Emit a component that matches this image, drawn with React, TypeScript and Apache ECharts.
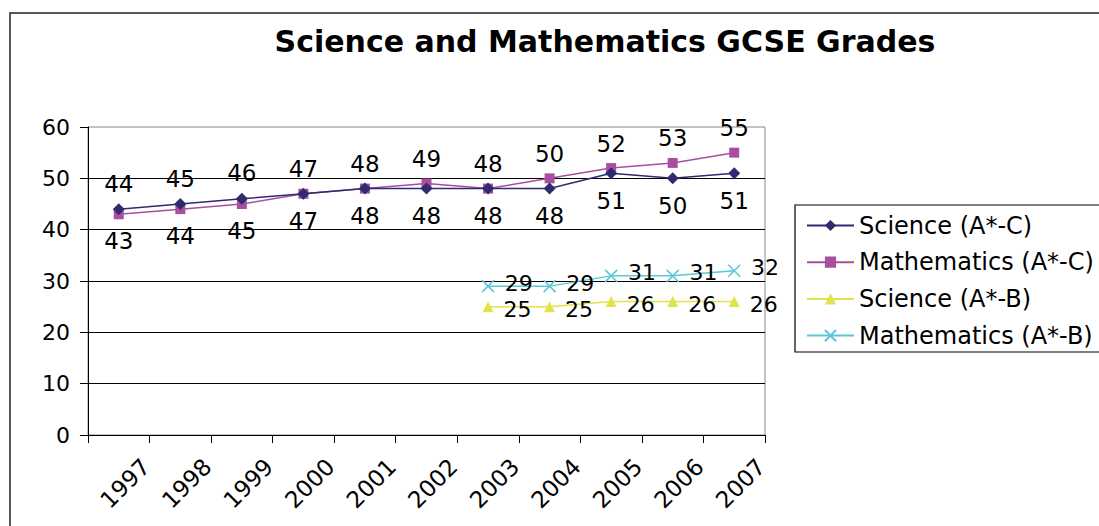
import React, { useEffect, useRef } from "react";
import * as echarts from "echarts";

const years = ["1997", "1998", "1999", "2000", "2001", "2002", "2003", "2004", "2005", "2006", "2007"];
const scienceAC = [44, 45, 46, 47, 48, 48, 48, 48, 51, 50, 51];
const mathsAC = [43, 44, 45, 47, 48, 49, 48, 50, 52, 53, 55];
const scienceAB = [null, null, null, null, null, null, 25, 25, 26, 26, 26];
const mathsAB = [null, null, null, null, null, null, 29, 29, 31, 31, 32];
const seriesNames = ["Science (A*-C)", "Mathematics (A*-C)", "Science (A*-B)", "Mathematics (A*-B)"];

const FONT = "DejaVu Sans";

export default function App() {
  const ref = useRef<HTMLDivElement>(null);
  useEffect(() => {
    if (!ref.current) return;
    const chart = echarts.init(ref.current, null, { renderer: "svg" });
    const labelBase = { show: true, fontSize: 23, color: "#000", fontFamily: FONT };
    const pos = (above: boolean) =>
      above ? { position: "top", distance: 8 } : { position: "bottom", distance: 10 };
    const sciData = scienceAC.map((v, i) => ({ value: v, label: pos(v > mathsAC[i]) }));
    const mathData = mathsAC.map((v, i) => ({ value: v, label: pos(v >= scienceAC[i]) }));
    chart.setOption({
      animation: false,
      backgroundColor: "#fff",
      textStyle: { fontFamily: FONT },
      title: {
        text: "Science and Mathematics GCSE Grades",
        left: 600,
        textAlign: "center",
        top: 21,
        textStyle: { fontFamily: FONT, fontSize: 30, fontWeight: "bold", color: "#000" },
      },
      graphic: [
        {
          type: "rect",
          shape: { x: 10, y: 13, width: 1100, height: 530 },
          style: { fill: "none", stroke: "#222", lineWidth: 1.5 },
          silent: true,
          z: -1,
        },
        {
          type: "rect",
          shape: { x: 795, y: 205, width: 320, height: 147 },
          style: { fill: "none", stroke: "#000", lineWidth: 1.2 },
          silent: true,
        },
      ],
      legend: {
        orient: "vertical",
        left: 801,
        top: 208,
        itemWidth: 47,
        itemHeight: 14,
        itemGap: 11.7,
        textStyle: { fontFamily: FONT, fontSize: 24, color: "#000", lineHeight: 25 },
        data: seriesNames,
      },
      grid: {
        left: 88,
        top: 127,
        right: 334,
        bottom: 91,
        show: true,
        borderColor: "#888",
        borderWidth: 1,
        backgroundColor: "transparent",
      },
      xAxis: {
        type: "category",
        data: years,
        boundaryGap: true,
        axisLine: { lineStyle: { color: "#000", width: 1 } },
        axisTick: { show: true, length: 8, inside: false, lineStyle: { color: "#000" } },
        axisLabel: {
          rotate: 45,
          align: "center",
          verticalAlign: "middle",
          margin: 42,
          interval: 0,
          formatter: (v: string) => `{g|}\n{y|${v}}`,
          rich: {
            g: { lineHeight: 18, fontSize: 10 },
            y: { fontSize: 23, color: "#000", fontFamily: FONT, lineHeight: 26 },
          },
        },
        splitLine: { show: false },
      },
      yAxis: {
        type: "value",
        min: 0,
        max: 60,
        interval: 10,
        axisLine: { show: true, lineStyle: { color: "#000", width: 1 } },
        axisTick: { show: true, length: 8, lineStyle: { color: "#000" } },
        axisLabel: { fontSize: 22, color: "#000", fontFamily: FONT, margin: 18 },
        splitLine: { show: true, showMaxLine: false, lineStyle: { color: "#000", width: 1 } },
      },
      series: [
        {
          name: seriesNames[0],
          type: "line",
          data: sciData,
          symbol: "diamond",
          symbolSize: 12,
          color: "#2F2B6E",
          lineStyle: { width: 1.5, color: "#2F2B6E" },
          label: { ...labelBase },
          z: 3,
        },
        {
          name: seriesNames[1],
          type: "line",
          data: mathData,
          symbol: "rect",
          symbolSize: 10,
          color: "#A8509F",
          lineStyle: { width: 1.5, color: "#A8509F" },
          label: { ...labelBase },
          z: 2,
        },
        {
          name: seriesNames[2],
          type: "line",
          data: scienceAB,
          symbol: "triangle",
          symbolSize: 11,
          color: "#E2E24A",
          lineStyle: { width: 1.5, color: "#E2E24A" },
          label: { ...labelBase, fontSize: 22, position: "right", distance: 10, offset: [0, 3] },
        },
        {
          name: seriesNames[3],
          type: "line",
          data: mathsAB,
          symbol: "path://M0,0L10,10M10,0L0,10",
          symbolSize: 12,
          color: "#5BC8D6",
          itemStyle: { color: "#5BC8D6", borderColor: "#5BC8D6", borderWidth: 1.5 },
          lineStyle: { width: 1.5, color: "#5BC8D6" },
          label: { ...labelBase, fontSize: 22, position: "right", distance: 10, offset: [0, -3] },
        },
      ],
    });
    return () => chart.dispose();
  }, []);
  return (
    <div
      ref={ref}
      style={{ position: "absolute", left: 0, top: 0, width: 1099, height: 526 }}
    />
  );
}
